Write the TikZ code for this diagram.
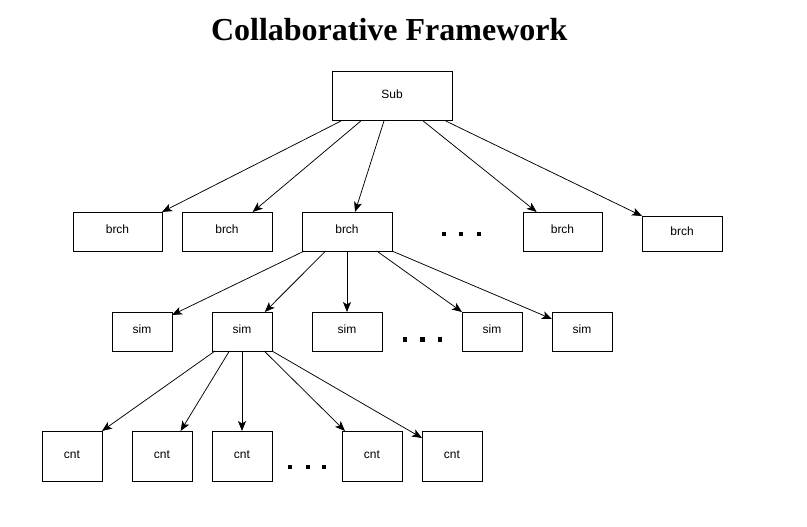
\documentclass[tikz,border=0pt]{standalone}
\usepackage{fontspec}
\setmainfont{Liberation Serif}
\setsansfont{Liberation Sans}
\usetikzlibrary{arrows.meta,calc}
\tikzset{
  box/.style={draw=black, line width=1pt, rectangle, inner sep=0pt, outer sep=0pt,
    font=\sffamily\fontsize{12}{14}\selectfont, text height=8.5pt, text depth=4pt},
  conn/.style={line width=0.75pt, -{Stealth[length=10pt,width=8pt,inset=2.5pt]}},
  dotsq/.style={fill=black},
  titletext/.style={font=\bfseries\fontsize{32}{38}\selectfont, anchor=base, inner sep=0pt}
}
\begin{document}
\begin{tikzpicture}[x=1pt,y=-1pt]
\useasboundingbox (0,0) rectangle (807,527);
\fill[white] (0,0) rectangle (807,527);
\node[titletext] (title) at (389.2,40.5) {Collaborative Framework};
% level 0
\node[box, minimum width=120pt, minimum height=49pt] (sub) at (392,96.5) {Sub};
% level 1
\node[box, minimum width=89pt, minimum height=39pt] (b1) at (117.5,231.5) {brch};
\node[box, minimum width=90pt, minimum height=39pt] (b2) at (227,231.5) {brch};
\node[box, minimum width=90pt, minimum height=39pt] (b3) at (347,231.5) {brch};
\node[box, minimum width=79pt, minimum height=39pt] (b4) at (562.5,231.5) {brch};
\node[box, minimum width=80pt, minimum height=35pt] (b5) at (682,233.5) {brch};
% level 2
\node[box, minimum width=60pt, minimum height=39pt] (s1) at (142,331.5) {sim};
\node[box, minimum width=60pt, minimum height=39pt] (s2) at (242,331.5) {sim};
\node[box, minimum width=70pt, minimum height=39pt] (s3) at (347,331.5) {sim};
\node[box, minimum width=60pt, minimum height=39pt] (s4) at (492,331.5) {sim};
\node[box, minimum width=60pt, minimum height=39pt] (s5) at (582,331.5) {sim};
% level 3
\node[box, minimum width=60pt, minimum height=50pt] (c1) at (72,456) {cnt};
\node[box, minimum width=60pt, minimum height=50pt] (c2) at (162,456) {cnt};
\node[box, minimum width=60pt, minimum height=50pt] (c3) at (242,456) {cnt};
\node[box, minimum width=60pt, minimum height=50pt] (c4) at (372,456) {cnt};
\node[box, minimum width=60pt, minimum height=50pt] (c5) at (452,456) {cnt};
% dots
\foreach \x in {444.3,461,478.7} \fill[dotsq] (\x-2,232.3) rectangle (\x+2,236.3);
\foreach \x in {404.7,422.3,440} \fill[dotsq] (\x-2.2,337.1) rectangle (\x+2.2,341.5);
\foreach \x in {290,307.8,323.7} \fill[dotsq] (\x-2.2,464.5) rectangle (\x+2.2,468.9);
% connectors sub -> brch
\draw[conn] ($(sub.south west)!0.075!(sub.south east)$) -- (b1.north east);
\draw[conn] ($(sub.south west)!0.24!(sub.south east)$) -- ($(b2.north west)!0.785!(b2.north east)$);
\draw[conn] ($(sub.south west)!0.433!(sub.south east)$) -- ($(b3.north west)!0.589!(b3.north east)$);
\draw[conn] ($(sub.south west)!0.76!(sub.south east)$) -- ($(b4.north west)!0.173!(b4.north east)$);
\draw[conn] ($(sub.south west)!0.948!(sub.south east)$) -- (b5.north west);
% connectors brch -> sim
\draw[conn] ($(b3.south west)!0.025!(b3.south east)$) -- ($(s1.north east)+(0,3)$);
\draw[conn] ($(b3.south west)!0.263!(b3.south east)$) -- ($(s2.north west)!0.88!(s2.north east)$);
\draw[conn] (b3.south) -- (s3.north);
\draw[conn] ($(b3.south west)!0.83!(b3.south east)$) -- (s4.north west);
\draw[conn] (b3.south east) -- ($(s5.north west)+(0,7)$);
% connectors sim -> cnt
\draw[conn] ($(s2.south west)!0.05!(s2.south east)$) -- (c1.north east);
\draw[conn] ($(s2.south west)!0.29!(s2.south east)$) -- ($(c2.north west)!0.81!(c2.north east)$);
\draw[conn] (s2.south) -- (c3.north);
\draw[conn] ($(s2.south west)!0.87!(s2.south east)$) -- ($(c4.north west)!0.05!(c4.north east)$);
\draw[conn] (s2.south east) -- ($(c5.north west)+(0,7)$);
\end{tikzpicture}
\end{document}
